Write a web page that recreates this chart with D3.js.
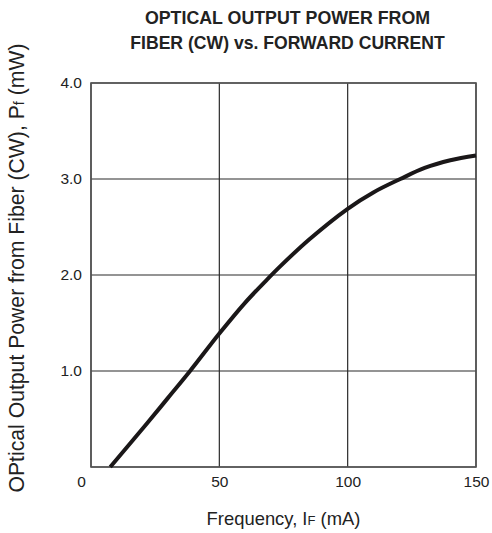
<!DOCTYPE html>
<html><head><meta charset="utf-8">
<script src="https://cdn.jsdelivr.net/npm/d3@7"></script>
<style>body{margin:0;background:#fff}svg{display:block}text{font-family:"Liberation Sans",Arial,Helvetica,sans-serif}</style>
</head><body>
<script>
const currentMA = [7.5, 21.7, 30, 38.6, 50, 60, 68.5, 73.7, 85, 100, 110, 120.5, 130, 140, 150];
const powerMW   = [0, 0.45, 0.72, 1.0, 1.39, 1.71, 1.95, 2.09, 2.37, 2.69, 2.86, 3.0, 3.115, 3.195, 3.245];
const xTicks = [0, 50, 100, 150];
const yTicks = [1, 2, 3, 4];
const titleLines = ["OPTICAL OUTPUT POWER FROM", "FIBER (CW) vs. FORWARD CURRENT"];

const W = 492, H = 533;
const m = {left: 91, right: 16, top: 83, bottom: 66};
const svg = d3.select("body").append("svg").attr("width", W).attr("height", H);
const x = d3.scaleLinear().domain([0,150]).range([m.left, W - m.right]);
const y = d3.scaleLinear().domain([0,4]).range([H - m.bottom, m.top]);

// grid
const g = svg.append("g");
g.selectAll(".vg").data(xTicks).join("line")
  .attr("x1", d=>x(d)).attr("x2", d=>x(d)).attr("y1", y(0)).attr("y2", y(4))
  .attr("stroke", "#2a2a2a").attr("stroke-width", 1.2);
g.selectAll(".hg").data(yTicks.concat([0])).join("line")
  .attr("y1", d=>y(d)).attr("y2", d=>y(d)).attr("x1", x(0)).attr("x2", x(150))
  .attr("stroke", "#2a2a2a").attr("stroke-width", 1.2);
g.append("rect").attr("x", x(0)).attr("y", y(4)).attr("width", x(150)-x(0)).attr("height", y(0)-y(4))
  .attr("fill", "none").attr("stroke", "#555").attr("stroke-width", 1.6);

// axis tick labels via d3 axes
const xa = svg.append("g").attr("transform", `translate(0,${y(0)})`)
  .call(d3.axisBottom(x).tickValues(xTicks).tickSize(0).tickPadding(9).tickFormat(d3.format("d")));
xa.select(".domain").remove();
xa.selectAll("text").attr("font-size", 15.5).attr("fill", "#222").style("font-family","Liberation Sans, Arial, sans-serif");
xa.selectAll("text").filter(d=>d===0).attr("dx", -10);

const ya = svg.append("g").attr("transform", `translate(${x(0)},0)`)
  .call(d3.axisLeft(y).tickValues(yTicks).tickSize(0).tickPadding(9).tickFormat(d3.format(".1f")));
ya.select(".domain").remove();
ya.selectAll("text").attr("font-size", 15.5).attr("fill", "#222").style("font-family","Liberation Sans, Arial, sans-serif");

// curve
svg.append("path").datum(currentMA.map((c,i)=>[c, powerMW[i]]))
  .attr("d", d3.line().x(d=>x(d[0])).y(d=>y(d[1])).curve(d3.curveCatmullRom.alpha(0.5)))
  .attr("fill", "none").attr("stroke", "#1a1718").attr("stroke-width", 4).attr("stroke-linecap", "butt");

// title
const cx = (x(0)+x(150))/2;
svg.append("text").attr("x", cx + 4).attr("y", 24).attr("text-anchor", "middle")
  .attr("font-size", 17.8).attr("font-weight", "bold").attr("fill", "#222").text(titleLines[0]);
svg.append("text").attr("x", cx + 4).attr("y", 49).attr("text-anchor", "middle")
  .attr("font-size", 17.6).attr("font-weight", "bold").attr("fill", "#222").text(titleLines[1]);

// x title
const xt = svg.append("text").attr("x", cx).attr("y", 525).attr("text-anchor", "middle")
  .attr("font-size", 18.4).attr("fill", "#222");
xt.append("tspan").text("Frequency, I");
xt.append("tspan").attr("font-size", 13).text("F");
xt.append("tspan").text(" (mA)");

// y title
const yt = svg.append("text").attr("transform", `translate(24,${(y(0)+y(4))/2 - 7}) rotate(-90)`)
  .attr("text-anchor", "middle").attr("font-size", 21.2).attr("fill", "#222");
yt.append("tspan").text("OPtical Output Power from Fiber (CW), P");
yt.append("tspan").attr("font-size", 14.5).text("f");
yt.append("tspan").text(" (mW)");
</script>
</body></html>
